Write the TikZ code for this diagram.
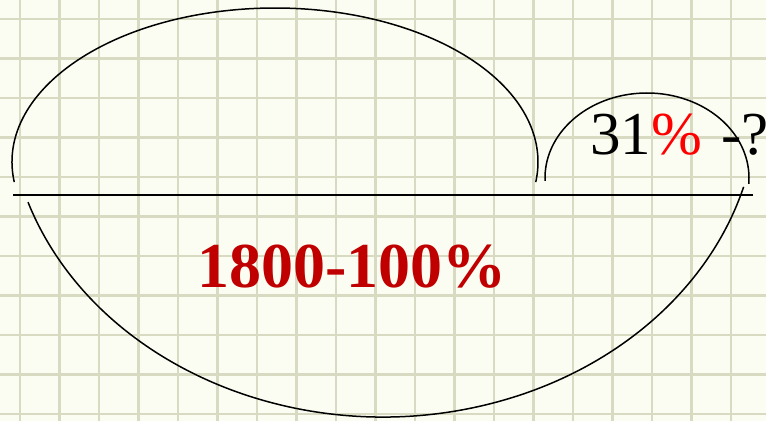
\documentclass[tikz,border=0pt]{standalone}
\usepackage{fontspec}
\setmainfont{Liberation Serif}
\usepackage{xcolor}
\usepackage{tikz}
\usetikzlibrary{calc}
\definecolor{PaperBg}{RGB}{252,253,242}
\definecolor{GridLine}{RGB}{216,219,193}
\definecolor{WholeRed}{RGB}{192,0,0}
\definecolor{PctRed}{RGB}{255,0,0}

\begin{document}
\begin{tikzpicture}[
    x=1pt, y=1pt,
    gridline/.style={GridLine, line width=2.6pt},
    curve/.style={black, line width=1.5pt},
    bigtext/.style={font=\fontsize{64}{64}\selectfont\bfseries, text=WholeRed, inner sep=0pt, anchor=base},
    parttext/.style={font=\fontsize{61}{61}\selectfont, inner sep=0pt, anchor=base west}
  ]
    \fill[PaperBg] (0,0) rectangle (766,421);
    \useasboundingbox (0,0) rectangle (766,421);

    % graph paper
    \foreach \gx in {0,...,19}
      \draw[gridline] ({20+39.5*\gx},0) -- ({20+39.5*\gx},421);
    \foreach \gy in {0,...,10}
      \draw[gridline] (0,{402-39.5*\gy}) -- (766,{402-39.5*\gy});

    % base line
    \coordinate (axisL) at (13,226);
    \coordinate (axisR) at (753,226);
    \draw[curve] (axisL) -- (axisR);

    % arcs
    \coordinate (topL) at ($(275,259)+(187.5:263 and 154)$);
    \draw[curve] (topL) arc[start angle=187.5, end angle=-7.5, x radius=263, y radius=154];

    \coordinate (smallL) at ($(647,243)+(182:102 and 85)$);
    \draw[curve] (smallL) arc[start angle=182, end angle=-4, x radius=102, y radius=85];

    \coordinate (lowL) at ($(383,321)+(198.8:375 and 317)$);
    \draw[curve] (lowL) arc[start angle=198.8, end angle=344.1, x radius=375, y radius=317];

    % labels
    \node[bigtext] (total) at (352,134) {1800-100\%};
    \node[parttext] (part) at (590,266) {31\textcolor{PctRed}{\%}\hspace{4pt} -?};
\end{tikzpicture}
\end{document}
